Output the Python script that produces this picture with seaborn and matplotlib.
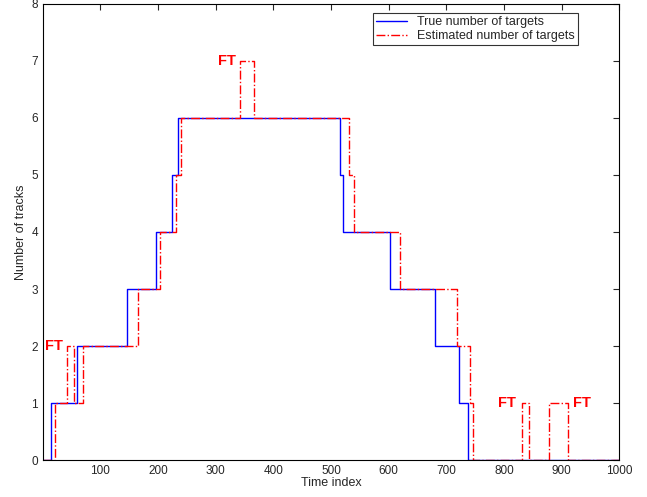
import matplotlib
matplotlib.use("Agg")
import matplotlib.pyplot as plt
import seaborn as sns
import pandas as pd

# Step change points (time index) and values after each change
true_times = [1, 15, 60, 147, 196, 225, 234, 516, 521, 603, 680, 723, 737, 1000]
true_vals = [0, 1, 2, 3, 4, 5, 6, 5, 4, 3, 2, 1, 0, 0]
est_times = [1, 22, 42, 54, 70, 166, 203, 232, 240, 342, 367, 532, 540, 620, 719, 741, 746, 831, 844, 878, 911, 1000]
est_vals = [0, 1, 2, 1, 2, 3, 4, 5, 6, 7, 6, 5, 4, 3, 2, 1, 0, 1, 0, 1, 0, 0]
xticks = [100, 200, 300, 400, 500, 600, 700, 800, 900, 1000]
yticks = [0, 1, 2, 3, 4, 5, 6, 7, 8]
ft_labels = [(19, 2), (320, 7), (805, 1), (936, 1)]

sns.set_style("white")
plt.rcParams['font.family'] = ['Liberation Sans', 'DejaVu Sans']

fig = plt.figure(figsize=(6.47, 4.97), dpi=100)
ax = fig.add_axes([0.066, 0.0744, 0.891, 0.9176])

df_true = pd.DataFrame({"t": true_times, "n": true_vals})
df_est = pd.DataFrame({"t": est_times, "n": est_vals})
sns.lineplot(data=df_true, x="t", y="n", ax=ax, color="blue", lw=1.0,
             drawstyle="steps-post", label="True number of targets")
sns.lineplot(data=df_est, x="t", y="n", ax=ax, color="red", lw=1.0,
             linestyle="-.", drawstyle="steps-post", label="Estimated number of targets")

for x, y in ft_labels:
    ax.text(x, y, "FT", color="red", fontweight="bold", fontsize=10.5,
            ha="center", va="center", clip_on=False)

ax.set_xlim(0, 1000)
ax.set_ylim(0, 8)
ax.set_xticks(xticks)
ax.set_yticks(yticks)
ax.tick_params(direction="in", top=True, right=True, labelsize=8.5, length=4, width=0.8)
for s in ax.spines.values():
    s.set_color("black")
    s.set_linewidth(0.8)
ax.set_xlabel("Time index", fontsize=9, labelpad=0)
ax.set_ylabel("Number of tracks", fontsize=9, labelpad=3)

leg = ax.legend(loc="upper right", bbox_to_anchor=(0.929, 0.98), borderaxespad=0,
                fontsize=9, frameon=True, fancybox=False, handlelength=2.5,
                borderpad=0.25, labelspacing=0.15)
leg.get_frame().set_edgecolor("black")
leg.get_frame().set_linewidth(0.8)

fig.savefig("out.png", dpi=100)
